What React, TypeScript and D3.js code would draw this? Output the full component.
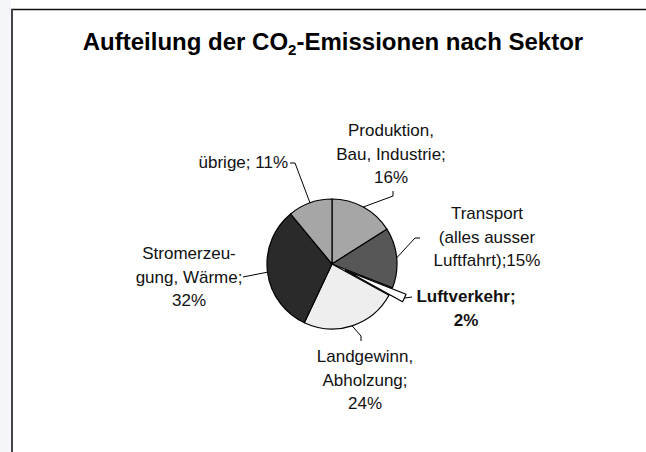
import React from "react";
import * as d3 from "d3";

const categories = [
  ["Produktion,", "Bau, Industrie;", "16%"],
  ["Transport", "(alles ausser", "Luftfahrt);15%"],
  ["Luftverkehr;", "2%"],
  ["Landgewinn,", "Abholzung;", "24%"],
  ["Stromerzeu-", "gung, Wärme;", "32%"],
  ["übrige; 11%"],
];
const values = [16, 15, 2, 24, 32, 11];
const fills = ["#a6a6a6", "#575757", "#ffffff", "#eeeeee", "#2a2a2a", "#a6a6a6"];
const exploded = [0, 0, 15, 0, 0, 0];
const boldLabel = [false, false, true, false, false, false];

// label layout relative to pie centre: [x, firstBaseline, anchor]
const labelLayout: [number, number, string][] = [
  [59, -128, "middle"],
  [155, -45, "middle"],
  [134, 38, "middle"],
  [33, 98, "middle"],
  [-143, -5, "middle"],
  [-44, -96, "end"],
];
// leader extra points relative to centre
const leaderPts: [number, number][][] = [
  [[61, -68], [61, -73]],
  [[83, -26], [88, -26]],
  [[80, 33]],
  [[29, 72], [29, 77]],
  [[-89, 13]],
  [[-37, -101], [-42, -101]],
];

export default function App() {
  const W = 646, H = 452;
  const cx = 332, cy = 264, R = 65;
  const lineH = 23.5;
  const pie = d3.pie<number>().sort(null).value((d) => d);
  const arcs = pie(values);
  const arcGen = d3.arc<d3.PieArcDatum<number>>().innerRadius(0).outerRadius(R);

  return (
    <>
      <style>{"html,body{margin:0;padding:0;overflow:hidden;background:#fff}"}</style>
      <svg width={W} height={H} style={{ position: "absolute", left: 0, top: 0, display: "block" }}
        fontFamily="'Liberation Sans', Arial, sans-serif">
        <rect x={0} y={0} width={W} height={H} fill="#ffffff" />
        <rect x={0} y={0} width={11} height={H} fill="#f4f6f9" />
        <rect x={11} y={9} width={W - 11} height={H - 9} fill="#ffffff" />
        <line x1={11} y1={9.5} x2={W} y2={9.5} stroke="#111" strokeWidth={1.5} />
        <line x1={12} y1={9} x2={12} y2={H} stroke="#444" strokeWidth={2} />
        <text x={333} y={50} textAnchor="middle" fontWeight="bold" fontSize={24} fill="#000">
          Aufteilung der CO
          <tspan fontSize={15} dy={5}>2</tspan>
          <tspan dy={-5}>-Emissionen nach Sektor</tspan>
        </text>
        <g transform={`translate(${cx},${cy})`}>
          {arcs.map((a, i) => {
            const mid = (a.startAngle + a.endAngle) / 2;
            const off = exploded[i];
            const tx = Math.sin(mid) * off, ty = -Math.cos(mid) * off;
            return (
              <path key={i} d={arcGen(a) || ""} transform={`translate(${tx},${ty})`}
                fill={fills[i]} stroke="#000" strokeWidth={1.2} strokeLinejoin="round" />
            );
          })}
          {arcs.map((a, i) => {
            const mid = (a.startAngle + a.endAngle) / 2;
            const r0 = R + exploded[i];
            const p0: [number, number] = [Math.sin(mid) * r0, -Math.cos(mid) * r0];
            const pts = [p0, ...leaderPts[i]];
            return (
              <path key={"l" + i} d={d3.line()(pts) || ""} fill="none" stroke="#000" strokeWidth={1} />
            );
          })}
          {categories.map((lines, i) => {
            const [lx, ly, anchor] = labelLayout[i];
            return (
              <text key={"t" + i} x={lx} y={ly} textAnchor={anchor} fontSize={17}
                fontWeight={boldLabel[i] ? "bold" : "normal"} fill="#111">
                {lines.map((s, j) => (
                  <tspan key={j} x={lx} y={ly + j * lineH}>{s}</tspan>
                ))}
              </text>
            );
          })}
        </g>
      </svg>
    </>
  );
}
